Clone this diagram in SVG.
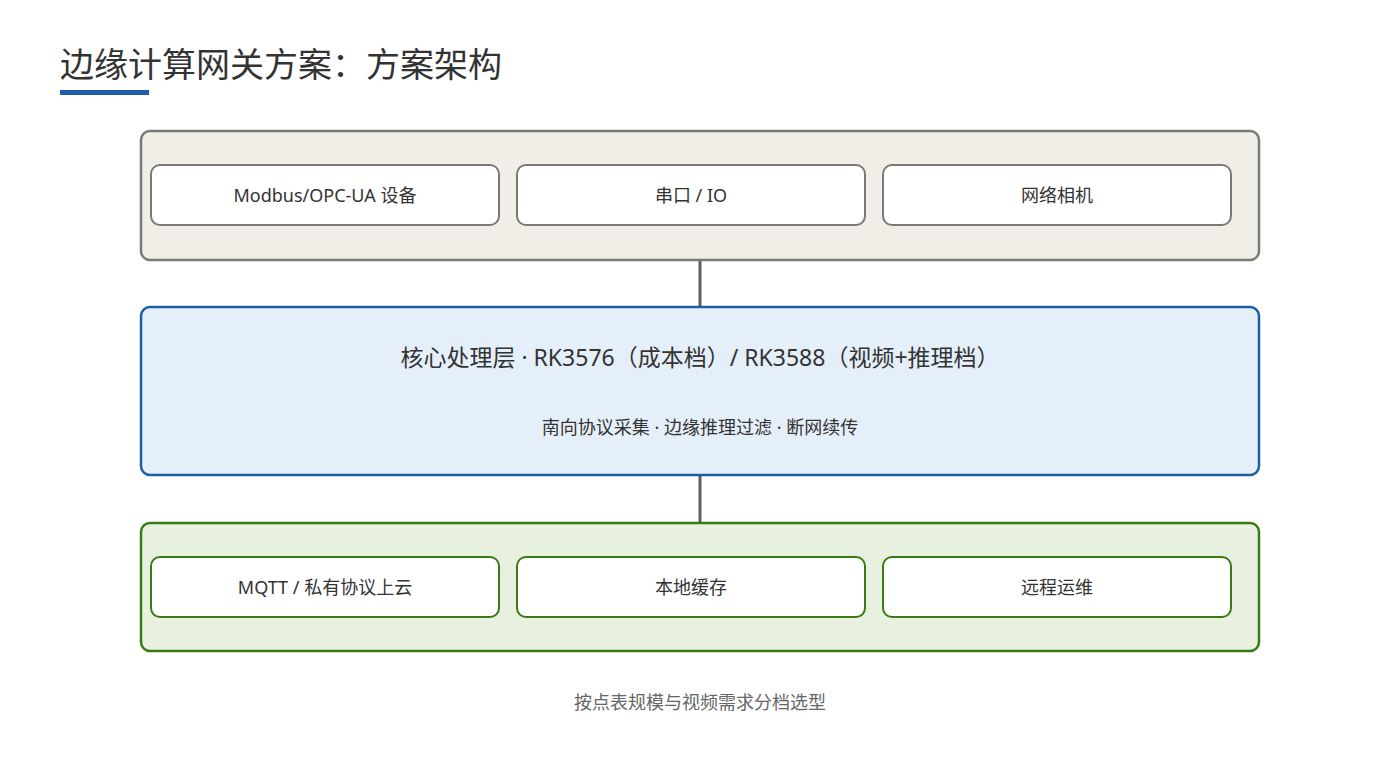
<svg xmlns="http://www.w3.org/2000/svg" width="1400" height="760" viewBox="0 0 1400 760">
<style>
text{font-family:"Noto Sans","Noto Sans CJK SC",sans-serif;fill:#333;text-anchor:middle}
.b{fill:#fff;stroke-width:2}
.g .b{stroke:#7a7a75}
.n .b{stroke:#3b7a12}
.t{font-size:18px}
</style>
<rect width="1400" height="760" fill="#fff"/>
<text x="60" y="77" style="text-anchor:start;font-size:34px" fill="#333">边缘计算网关方案：方案架构</text>
<rect x="60" y="90" width="89" height="5" fill="#1a5fa8"/>
<g id="connectors" stroke="#5f5f5f" stroke-width="3">
<line x1="700" y1="260" x2="700" y2="307"/>
<line x1="700" y1="476" x2="700" y2="523"/>
</g>
<g id="device-layer" class="g">
<rect x="141" y="131" width="1118" height="129" rx="9" fill="#f1eee7" stroke="#7a7a75" stroke-width="2.5"/>
<g id="modbus"><rect class="b" x="151" y="165" width="348" height="60" rx="9"/><text class="t" x="325" y="202">Modbus/OPC-UA 设备</text></g>
<g id="serial"><rect class="b" x="517" y="165" width="348" height="60" rx="9"/><text class="t" x="691" y="202">串口 / IO</text></g>
<g id="camera"><rect class="b" x="883" y="165" width="348" height="60" rx="9"/><text class="t" x="1057" y="202">网络相机</text></g>
</g>
<g id="core">
<rect x="141" y="307" width="1118" height="168" rx="9" fill="#e5eff9" stroke="#1a5fa8" stroke-width="2.5"/>
<text x="700" y="366" style="font-size:23px">核心处理层 · RK3576（成本档）/ RK3588（视频+推理档）</text>
<text x="700" y="434" style="font-size:18px">南向协议采集 · 边缘推理过滤 · 断网续传</text>
</g>
<g id="cloud-layer" class="n">
<rect x="141" y="523" width="1118" height="128" rx="9" fill="#e8f1df" stroke="#3b7a12" stroke-width="2.5"/>
<g id="mqtt"><rect class="b" x="151" y="557" width="348" height="60" rx="9"/><text class="t" x="325" y="594">MQTT / 私有协议上云</text></g>
<g id="cache"><rect class="b" x="517" y="557" width="348" height="60" rx="9"/><text class="t" x="691" y="594">本地缓存</text></g>
<g id="ops"><rect class="b" x="883" y="557" width="348" height="60" rx="9"/><text class="t" x="1057" y="594">远程运维</text></g>
</g>
<text x="700" y="709" style="font-size:18px;fill:#666">按点表规模与视频需求分档选型</text>
</svg>
